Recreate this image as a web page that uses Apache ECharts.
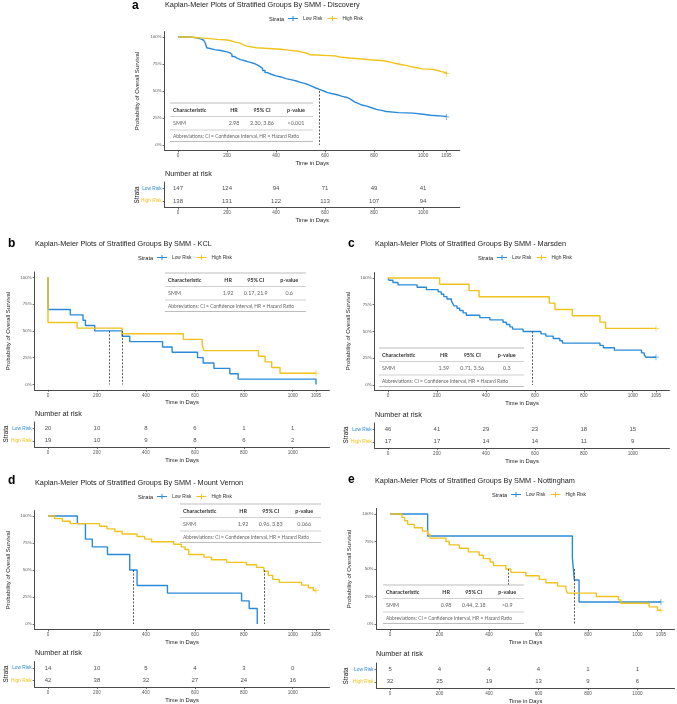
<!DOCTYPE html>
<html>
<head>
<meta charset="utf-8">
<script src="https://cdn.jsdelivr.net/npm/echarts@6/dist/echarts.min.js"></script>
<style>
  html, body { margin: 0; padding: 0; background: #fff; }
  #main { width: 677px; height: 704px; }
</style>
</head>
<body>
<div id="main"></div>
<script>
// shared axis values
const kmTicks = [0, 200, 400, 600, 800, 1000, 1095];
const riskTicks = [0, 200, 400, 600, 800, 1000];
const survTicks = [0, 0.25, 0.5, 0.75, 1];
const strata = ['High Risk', 'Low Risk'];

// a - Discovery
const discLow = [[0,1],[30,0.997],[60,0.99],[80,0.98],[95,0.97],[105,0.955],[112,0.94],[117,0.9],[122,0.883],[150,0.875],[175,0.865],[195,0.855],[210,0.84],[220,0.82],[230,0.805],[240,0.79],[255,0.775],[280,0.765],[295,0.755],[310,0.74],[325,0.725],[335,0.71],[345,0.69],[355,0.67],[365,0.655],[380,0.64],[400,0.63],[420,0.615],[440,0.605],[460,0.595],[480,0.58],[500,0.57],[515,0.56],[530,0.545],[545,0.53],[560,0.515],[577,0.5],[595,0.485],[610,0.475],[630,0.465],[650,0.45],[670,0.44],[690,0.43],[700,0.415],[710,0.4],[720,0.385],[735,0.37],[750,0.36],[770,0.345],[790,0.33],[810,0.32],[830,0.31],[850,0.3],[900,0.295],[960,0.285],[1000,0.275],[1030,0.265],[1095,0.26]];
const discHigh = [[0,1],[40,0.995],[70,0.99],[100,0.985],[130,0.978],[160,0.972],[200,0.965],[215,0.955],[230,0.945],[250,0.93],[265,0.915],[280,0.9],[320,0.893],[370,0.886],[420,0.878],[450,0.868],[490,0.858],[510,0.85],[525,0.835],[540,0.825],[640,0.815],[660,0.805],[700,0.798],[740,0.79],[780,0.782],[830,0.775],[850,0.765],[870,0.755],[890,0.745],[910,0.735],[935,0.725],[950,0.715],[975,0.705],[995,0.7],[1040,0.69],[1060,0.68],[1075,0.67],[1095,0.66]];
const discMedians = [577];
const discCensorLow = [[1095, 0.26]];
const discCensorHigh = [[1095, 0.66]];
const discRiskLow = [147, 124, 94, 71, 49, 41];
const discRiskHigh = [138, 131, 122, 113, 107, 94];
const discStats = ['2.98', '2.30, 3.86', '<0.001'];

// b - KCL
const kclLow = [[0,1],[0,0.7],[91,0.65],[143,0.6],[153,0.55],[191,0.5],[303,0.45],[334,0.4],[468,0.35],[507,0.3],[611,0.25],[634,0.2],[678,0.15],[743,0.1],[777,0.05],[1095,0]];
const kclHigh = [[0,1],[0,0.579],[119,0.526],[303,0.474],[553,0.421],[630,0.368],[637,0.316],[860,0.263],[887,0.211],[914,0.158],[948,0.105],[1095,0.105]];
const kclMedians = [252, 303];
const kclCensorLow = [];
const kclCensorHigh = [[1095, 0.105]];
const kclRiskLow = [20, 10, 8, 6, 1, 1];
const kclRiskHigh = [19, 10, 9, 8, 6, 2];
const kclStats = ['1.92', '0.17, 21.9', '0.6'];

// c - Marsden
const marsLow = [[0,1],[4,0.978],[20,0.957],[41,0.935],[119,0.913],[157,0.891],[205,0.87],[218,0.848],[228,0.826],[241,0.804],[259,0.783],[265,0.761],[270,0.739],[282,0.717],[293,0.696],[307,0.674],[320,0.652],[375,0.63],[416,0.609],[470,0.587],[484,0.565],[498,0.543],[509,0.522],[552,0.5],[625,0.478],[645,0.457],[675,0.435],[702,0.413],[713,0.391],[866,0.37],[880,0.348],[925,0.326],[1036,0.3],[1047,0.28],[1054,0.26],[1095,0.26]];
const marsHigh = [[0,1],[211,0.941],[331,0.882],[372,0.824],[659,0.765],[682,0.706],[753,0.647],[866,0.588],[889,0.529],[1095,0.529]];
const marsMedians = [590];
const marsCensorLow = [[1095, 0.26]];
const marsCensorHigh = [[1095, 0.529]];
const marsRiskLow = [46, 41, 29, 23, 18, 15];
const marsRiskHigh = [17, 17, 14, 14, 11, 9];
const marsStats = ['1.59', '0.71, 3.56', '0.3'];

// d - Mount Vernon
const mvLow = [[0,1],[120,0.929],[153,0.786],[181,0.714],[243,0.643],[334,0.5],[364,0.357],[488,0.286],[791,0.214],[822,0.143],[855,0]];
const mvHigh = [[0,1],[27,0.976],[59,0.952],[91,0.929],[211,0.905],[241,0.881],[273,0.857],[303,0.833],[364,0.81],[395,0.786],[423,0.762],[514,0.738],[545,0.714],[560,0.69],[575,0.643],[637,0.619],[668,0.595],[730,0.571],[811,0.548],[852,0.524],[882,0.488],[900,0.45],[918,0.413],[945,0.385],[1036,0.36],[1064,0.335],[1084,0.31],[1095,0.31]];
const mvMedians = [349, 882];
const mvCensorLow = [];
const mvCensorHigh = [[1095, 0.31]];
const mvRiskLow = [14, 10, 5, 4, 3, 0];
const mvRiskHigh = [42, 38, 32, 27, 24, 16];
const mvStats = ['1.92', '0.96, 3.83', '0.066'];

// e - Nottingham
const nottLow = [[0,1],[152,0.8],[737,0.6],[745,0.4],[764,0.2],[1095,0.2]];
const nottHigh = [[0,1],[48,0.969],[59,0.938],[71,0.906],[98,0.875],[131,0.844],[152,0.813],[162,0.781],[226,0.75],[239,0.719],[280,0.688],[317,0.656],[360,0.625],[377,0.594],[405,0.563],[418,0.531],[468,0.5],[488,0.469],[549,0.438],[603,0.406],[630,0.375],[677,0.344],[711,0.313],[717,0.281],[834,0.25],[923,0.219],[933,0.188],[1047,0.156],[1081,0.125],[1095,0.125]];
const nottMedians = [745, 478];
const nottCensorLow = [[1095, 0.2]];
const nottCensorHigh = [[1095, 0.125]];
const nottRiskLow = [5, 4, 4, 4, 1, 1];
const nottRiskHigh = [32, 25, 19, 13, 9, 6];
const nottStats = ['0.98', '0.44, 2.18', '>0.9'];

const BLUE = '#2b8ad8';
const YELLOW = '#f0c21c';
const AXIS = '#4a4a4a';
const FONT = '"Liberation Sans", Arial, sans-serif';
const TFONT = 'Lato, "Open Sans", sans-serif';
const PLUS = 'path://M0,4H20V6H0Z M9,0H11V10H9Z';
const CROSS = 'path://M0,4.4H10V5.6H0Z M4.4,0H5.6V10H4.4Z';

const panels = [
  { letter: 'a', name: 'Discovery', low: discLow, high: discHigh, medians: discMedians, cLow: discCensorLow, cHigh: discCensorHigh, rLow: discRiskLow, rHigh: discRiskHigh, stats: discStats,
    letterPos: [132, 6], titlePos: [165, 4.5], strataX: 269, legendY: 19,
    km: { left: 164.6, top: 31.6, width: 295.2, height: 118.8 }, risk: { left: 164.6, top: 182, width: 295.2, height: 25.5 },
    nar: [165, 174], ytitle: [137, 91], rstrata: [137, 195], table: [170, 103, 143] },
  { letter: 'b', name: 'KCL', low: kclLow, high: kclHigh, medians: kclMedians, cLow: kclCensorLow, cHigh: kclCensorHigh, rLow: kclRiskLow, rHigh: kclRiskHigh, stats: kclStats,
    letterPos: [8, 244], titlePos: [35, 243.5], strataX: 138, legendY: 258,
    km: { left: 34.6, top: 272, width: 294.8, height: 117.8 }, risk: { left: 34.6, top: 422, width: 294.8, height: 25 },
    nar: [35, 414], ytitle: [8, 331], rstrata: [6, 434], table: [165, 273, 141] },
  { letter: 'c', name: 'Marsden', low: marsLow, high: marsHigh, medians: marsMedians, cLow: marsCensorLow, cHigh: marsCensorHigh, rLow: marsRiskLow, rHigh: marsRiskHigh, stats: marsStats,
    letterPos: [348, 244], titlePos: [375, 243.5], strataX: 478, legendY: 258,
    km: { left: 374.6, top: 272.6, width: 294.8, height: 117.8 }, risk: { left: 374.6, top: 423, width: 294.8, height: 25 },
    nar: [375, 415], ytitle: [348, 331], rstrata: [346, 435], table: [379, 348, 145] },
  { letter: 'd', name: 'Mount Vernon', low: mvLow, high: mvHigh, medians: mvMedians, cLow: mvCensorLow, cHigh: mvCensorHigh, rLow: mvRiskLow, rHigh: mvRiskHigh, stats: mvStats,
    letterPos: [8, 481], titlePos: [35, 482.5], strataX: 138, legendY: 497,
    km: { left: 34.6, top: 510.6, width: 294.8, height: 118.8 }, risk: { left: 34.6, top: 661.5, width: 294.8, height: 25.5 },
    nar: [35, 653], ytitle: [8, 570], rstrata: [6, 674], table: [180, 504, 141] },
  { letter: 'e', name: 'Nottingham', low: nottLow, high: nottHigh, medians: nottMedians, cLow: nottCensorLow, cHigh: nottCensorHigh, rLow: nottRiskLow, rHigh: nottRiskHigh, stats: nottStats,
    letterPos: [348, 480], titlePos: [375, 481], strataX: 492, legendY: 495,
    km: { left: 376.5, top: 508.5, width: 298, height: 121 }, risk: { left: 376.5, top: 663, width: 298, height: 25 },
    nar: [376, 654], ytitle: [349, 569], rstrata: [346, 676], table: [383, 585, 141] }
];

const text = (x, y, str, font, fill, align, valign, rotation) => ({
  type: 'text', x: x, y: y, rotation: rotation || 0, z: 100,
  style: { text: str, font: font, fill: fill, textAlign: align || 'left', align: align || 'left',
    textVerticalAlign: valign || 'middle', verticalAlign: valign || 'middle' }
});
const hline = (x1, x2, y, color, w) => ({
  type: 'line', z: 100, shape: { x1: x1, y1: y, x2: x2, y2: y }, style: { stroke: color, lineWidth: w || 1 }
});

// regression table drawn inside each plot
function tableEls(tb, stats) {
  const [l, t, w] = tb;
  const k = w / 143;
  return [
    { type: 'rect', z: 99, shape: { x: l, y: t, width: w, height: 38.5 }, style: { fill: '#fff' } },
    hline(l, l + w, t, '#bdbdbd', 1),
    hline(l, l + w, t + 13.5, '#d0d0d0', 1),
    hline(l, l + w, t + 27, '#d0d0d0', 1),
    hline(l, l + w, t + 38.5, '#bdbdbd', 1),
    text(l + 3, t + 7, 'Characteristic', 'bold 5.4px ' + TFONT, '#333'),
    text(l + 64 * k, t + 7, 'HR', 'bold 5.4px ' + TFONT, '#333', 'center'),
    text(l + 92 * k, t + 7, '95% CI', 'bold 5.4px ' + TFONT, '#333', 'center'),
    text(l + 126 * k, t + 7, 'p-value', 'bold 5.4px ' + TFONT, '#333', 'center'),
    text(l + 3, t + 20.5, 'SMM', '5.4px ' + TFONT, '#666'),
    text(l + 64 * k, t + 20.5, stats[0], '5.4px ' + TFONT, '#666', 'center'),
    text(l + 92 * k, t + 20.5, stats[1], '5.4px ' + TFONT, '#666', 'center'),
    text(l + 126 * k, t + 20.5, stats[2], '5.4px ' + TFONT, '#666', 'center'),
    text(l + 3, t + 33, 'Abbreviations: CI = Confidence Interval, HR = Hazard Ratio', '4.9px ' + TFONT, '#666')
  ];
}

const grids = [], xAxes = [], yAxes = [], series = [], legends = [], graphics = [];

const axisLine = { show: true, onZero: false, lineStyle: { color: AXIS, width: 1 } };
const tickStyle = { lineStyle: { color: AXIS, width: 0.8 } };
const plain = v => String(v);

panels.forEach((p, i) => {
  const g = 2 * i, r = 2 * i + 1;
  grids.push(Object.assign({ containLabel: false, outerBoundsMode: 'none' }, p.km));
  grids.push(Object.assign({ containLabel: false, outerBoundsMode: 'none' }, p.risk));

  xAxes.push({
    gridIndex: g, type: 'value', min: -54.75, max: 1149.75,
    name: 'Time in Days', nameLocation: 'middle', nameGap: 10,
    nameTextStyle: { fontSize: 5.8, color: '#222', fontFamily: FONT },
    axisLine: axisLine,
    axisTick: Object.assign({ show: true, length: 2, customValues: kmTicks }, tickStyle),
    axisLabel: { customValues: kmTicks, formatter: plain, fontSize: 4.6, color: '#555', margin: 3, fontFamily: FONT },
    splitLine: { show: false }
  });
  xAxes.push({
    gridIndex: r, type: 'value', min: -54.75, max: 1149.75,
    name: 'Time in Days', nameLocation: 'middle', nameGap: 10,
    nameTextStyle: { fontSize: 5.8, color: '#222', fontFamily: FONT },
    axisLine: axisLine,
    axisTick: Object.assign({ show: true, length: 2, customValues: riskTicks }, tickStyle),
    axisLabel: { customValues: riskTicks, formatter: plain, fontSize: 4.6, color: '#555', margin: 3, fontFamily: FONT },
    splitLine: { show: false }
  });
  yAxes.push({
    gridIndex: g, type: 'value', min: -0.05, max: 1.05,
    axisLine: axisLine,
    axisTick: Object.assign({ show: true, length: 2, customValues: survTicks }, tickStyle),
    axisLabel: { customValues: survTicks, fontSize: 4.4, color: '#555', margin: 3, fontFamily: FONT,
      formatter: v => Math.round(v * 100) + '%' },
    splitLine: { show: false }
  });
  yAxes.push({
    gridIndex: r, type: 'category', data: strata,
    axisLine: axisLine,
    axisTick: Object.assign({ show: true, length: 2, alignWithLabel: true, interval: 0 }, tickStyle),
    axisLabel: { margin: 3, interval: 0, hideOverlap: false, fontFamily: FONT,
      formatter: v => v === 'Low Risk' ? '{l|Low Risk}' : '{h|High Risk}',
      rich: { l: { color: BLUE, fontSize: 4.8, fontFamily: FONT }, h: { color: YELLOW, fontSize: 4.8, fontFamily: FONT } } },
    splitLine: { show: false }
  });

  series.push({
    name: 'Low Risk', type: 'line', xAxisIndex: g, yAxisIndex: g, data: p.low, step: 'end',
    symbol: 'none', lineStyle: { color: BLUE, width: 1.4 }, itemStyle: { color: BLUE }, z: 2,
    markLine: {
      silent: true, symbol: ['none', 'none'], label: { show: false },
      lineStyle: { type: [2, 1.5], color: '#333', width: 0.8 },
      data: p.medians.map(m => [{ coord: [m, 0.5] }, { coord: [m, 0] }])
    }
  });
  series.push({
    name: 'High Risk', type: 'line', xAxisIndex: g, yAxisIndex: g, data: p.high, step: 'end',
    symbol: 'none', lineStyle: { color: YELLOW, width: 1.4 }, itemStyle: { color: YELLOW }, z: 3
  });
  series.push({
    name: 'censor-low', type: 'scatter', xAxisIndex: g, yAxisIndex: g, data: p.cLow,
    symbol: CROSS, symbolSize: 6, itemStyle: { color: BLUE }, z: 4
  });
  series.push({
    name: 'censor-high', type: 'scatter', xAxisIndex: g, yAxisIndex: g, data: p.cHigh,
    symbol: CROSS, symbolSize: 6, itemStyle: { color: YELLOW }, z: 4
  });
  series.push({
    name: 'at-risk', type: 'scatter', xAxisIndex: r, yAxisIndex: r,
    data: riskTicks.map((x, k) => [x, 'Low Risk', p.rLow[k]]).concat(riskTicks.map((x, k) => [x, 'High Risk', p.rHigh[k]])),
    symbolSize: 1, itemStyle: { color: 'rgba(0,0,0,0)' },
    label: { show: true, position: 'inside', formatter: q => q.value[2], fontSize: 6, color: '#222', fontFamily: FONT }
  });

  legends.push({
    left: p.strataX + 19, top: p.legendY - 3, orient: 'horizontal', padding: 0,
    itemWidth: 10, itemHeight: 5, itemGap: 5, selectedMode: false,
    textStyle: { fontSize: 4.8, color: '#333', fontFamily: FONT },
    data: [{ name: 'Low Risk', icon: PLUS }, { name: 'High Risk', icon: PLUS }]
  });

  graphics.push(
    text(p.letterPos[0], p.letterPos[1], p.letter, 'bold 12px ' + FONT, '#000', 'left'),
    text(p.titlePos[0], p.titlePos[1], 'Kaplan-Meier Plots of Stratified Groups By SMM - ' + p.name, '7.3px ' + FONT, '#222'),
    text(p.strataX, p.legendY, 'Strata', '5.7px ' + FONT, '#222'),
    text(p.nar[0], p.nar[1], 'Number at risk', '7.2px ' + FONT, '#222'),
    text(p.ytitle[0], p.ytitle[1], 'Probability of Overall Survival', '6px ' + FONT, '#222', 'center', 'middle', Math.PI / 2),
    text(p.rstrata[0], p.rstrata[1], 'Strata', '6.3px ' + FONT, '#222', 'center', 'middle', Math.PI / 2)
  );
  graphics.push.apply(graphics, tableEls(p.table, p.stats));
});

const chart = echarts.init(document.getElementById('main'), null, { renderer: 'canvas' });
chart.setOption({
  backgroundColor: '#fff',
  animation: false,
  grid: grids,
  xAxis: xAxes,
  yAxis: yAxes,
  legend: legends,
  series: series,
  graphic: { elements: graphics }
});
</script>
</body>
</html>
